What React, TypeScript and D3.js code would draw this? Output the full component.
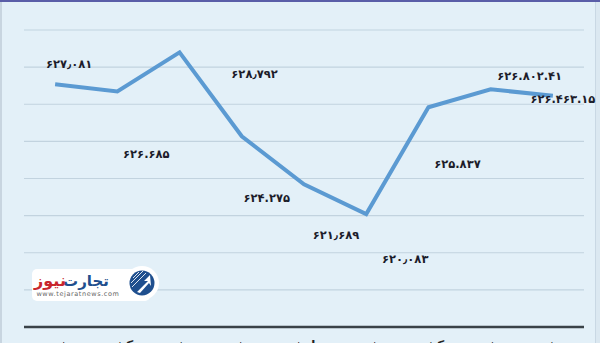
import React from "react";
import * as d3 from "d3";

// ---- data ----
const categories = ["شنبه", "یکشنبه", "دوشنبه", "سه‌شنبه", "چهارشنبه", "شنبه", "یکشنبه", "دوشنبه", "سه‌شنبه"];
const values = [627.081, 626.685, 628.792, 624.275, 621.689, 620.083, 625.837, 626.802, 626.463];
const valueLabels = ["۶۲۷٫۰۸۱", "۶۲۶.۶۸۵", "۶۲۸٫۷۹۲", "۶۲۴.۲۷۵", "۶۲۱٫۶۸۹", "۶۲۰٫۰۸۳", "۶۲۵.۸۳۷", "۶۲۶.۸۰۲.۴۱", "۶۲۶.۴۶۳.۱۵"];
const gridTicks = [616, 618, 620, 622, 624, 626, 628, 630];
const yDomain: [number, number] = [614, 630];

// ---- layout (label offsets from their point) ----
const labelOffsets: [number, number][] = [
  [14, -16], [29, 66], [75, 26], [25, 66], [32, 55], [39, 49], [29, 61], [39, -9], [10, 7],
];

const W = 600, H = 343;
const left = 24, right = 584, top = 30, bottom = 327;

export default function App() {
  const x = d3.scalePoint<number>().domain(values.map((_, i) => i)).range([left, right]).padding(0.5);
  const y = d3.scaleLinear().domain(yDomain).range([bottom, top]);
  const line = d3.line<number>().x((_, i) => x(i)!).y((d) => y(d));

  return (
    <svg width={W} height={H} style={{ position: "absolute", left: 0, top: 0 }} fontFamily="DejaVu Sans">
      <rect x={0} y={0} width={W} height={H} fill="#e3f0f8" />
      <rect x={595} y={0} width={5} height={H} fill="#dbe8f1" />
      <line x1={595.5} y1={0} x2={595.5} y2={H} stroke="#c9d8e4" strokeWidth={1} />
      <rect x={0} y={0} width={2} height={H} fill="#c8d5e0" />
      <rect x={0} y={0} width={W} height={2} fill="#5a5ea8" />

      {gridTicks.map((t) => (
        <line key={t} x1={left} x2={right} y1={y(t)} y2={y(t)} stroke="#c2d3df" strokeWidth={1.2} />
      ))}
      <line x1={left} x2={right} y1={y(yDomain[0])} y2={y(yDomain[0])} stroke="#3a4248" strokeWidth={2.5} />

      {categories.map((c, i) => (
        <text key={i} x={x(i)} y={349} textAnchor="middle" fontSize={12} fill="#222" fontWeight="bold">{c}</text>
      ))}

      <path d={line(values) || ""} fill="none" stroke="#5b9ad2" strokeWidth={4} strokeLinejoin="miter" />

      {values.map((v, i) => (
        <text key={i} x={x(i)! + labelOffsets[i][0]} y={y(v) + labelOffsets[i][1]} textAnchor="middle"
          fontSize={11.5} fontWeight="bold" fill="#1c1c2a">{valueLabels[i]}</text>
      ))}

      {/* logo */}
      <g>
        <rect x={32} y={269} width={118} height={32} rx={5} fill="#ffffff" />
        <circle cx={142} cy={283} r={17} fill="#ffffff" />
        <circle cx={142} cy={283} r={12.5} fill="#1f4f8e" />
        <g stroke="#ffffff" strokeWidth={1} opacity={0.85}>
          <line x1={133} y1={278} x2={139} y2={272} />
          <line x1={131} y1={283} x2={143} y2={271} />
          <line x1={132} y1={287} x2={146} y2={273} />
        </g>
        <polygon points="137,292 148,281 144,281 150,275 151,286 149,283 140,293" fill="#ffffff" />
        <text x={86} y={286} textAnchor="middle" fontSize={15} fontWeight="bold" fill="#1f4f8e">تجارت</text>
        <text x={50} y={286} textAnchor="middle" fontSize={16} fontWeight="bold" fill="#c8262d">نیوز</text>
        <text x={78} y={296} textAnchor="middle" fontSize={6.5} fill="#666" letterSpacing={0.6}>www.tejaratnews.com</text>
      </g>
    </svg>
  );
}
